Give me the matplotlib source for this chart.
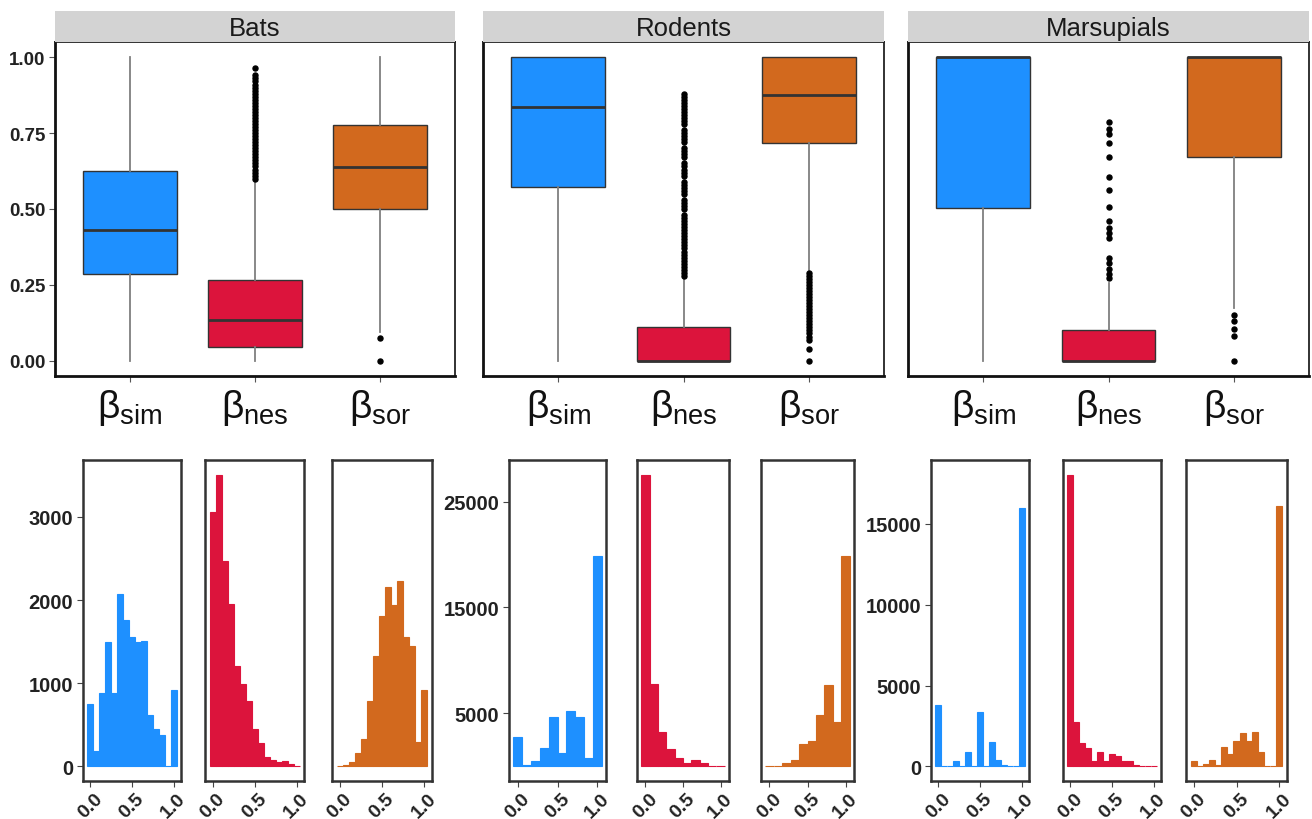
import numpy as np
import matplotlib
matplotlib.use("Agg")
import matplotlib.pyplot as plt

plt.rcParams['font.family'] = ['Liberation Sans', 'DejaVu Sans']
plt.rcParams['mathtext.fontset'] = 'custom'
plt.rcParams['mathtext.rm'] = 'Liberation Sans'

W, H = 1312, 820

groups = ['Bats', 'Rodents', 'Marsupials']
index_names = ['sim', 'nes', 'sor']
colors = ['#1E90FF', '#DC143C', '#D2691E']

# box stats per group, order: sim, nes, sor
bats_whislo = [0.0, 0.0, 0.096]
bats_q1 = [0.287, 0.047, 0.50]
bats_med = [0.43, 0.133, 0.637]
bats_q3 = [0.625, 0.265, 0.778]
bats_whishi = [1.0, 0.593, 1.0]

rodents_whislo = [0.0, 0.0, 0.30]
rodents_q1 = [0.573, 0.0, 0.716]
rodents_med = [0.837, 0.0, 0.876]
rodents_q3 = [1.0, 0.11, 1.0]
rodents_whishi = [1.0, 0.275, 1.0]

mars_whislo = [0.0, 0.0, 0.175]
mars_q1 = [0.503, 0.0, 0.672]
mars_med = [1.0, 0.0, 1.0]
mars_q3 = [1.0, 0.103, 1.0]
mars_whishi = [1.0, 0.255, 1.0]

# outliers
bats_nes_out = [0.60, 0.61, 0.62, 0.63, 0.64, 0.65, 0.66, 0.67, 0.68, 0.69, 0.70,
                0.71, 0.72, 0.73, 0.74, 0.75, 0.76, 0.77, 0.78, 0.79, 0.80, 0.81,
                0.82, 0.83, 0.84, 0.85, 0.86, 0.87, 0.88, 0.89, 0.90, 0.91, 0.92,
                0.93, 0.94, 0.965]
bats_sor_out = [0.075, 0.0]
rodents_nes_out = [0.28, 0.29, 0.30, 0.31, 0.32, 0.33, 0.34, 0.35, 0.36, 0.37, 0.38,
                   0.39, 0.40, 0.41, 0.42, 0.43, 0.44, 0.45, 0.46, 0.47, 0.48, 0.50,
                   0.51, 0.52, 0.53, 0.55, 0.56, 0.57, 0.58, 0.59, 0.61, 0.62, 0.63,
                   0.64, 0.65, 0.67, 0.68, 0.69, 0.70, 0.72, 0.73, 0.74, 0.75, 0.76,
                   0.78, 0.79, 0.80, 0.81, 0.82, 0.83, 0.84, 0.85, 0.86, 0.87, 0.88]
rodents_sor_out = [0.29, 0.28, 0.27, 0.26, 0.25, 0.24, 0.23, 0.22, 0.21, 0.20, 0.19,
                   0.18, 0.17, 0.16, 0.15, 0.14, 0.13, 0.12, 0.11, 0.10, 0.09, 0.08,
                   0.07, 0.04, 0.0]
mars_nes_out = [0.785, 0.763, 0.746, 0.718, 0.671, 0.606, 0.561, 0.506, 0.461,
                0.437, 0.420, 0.404, 0.338, 0.321, 0.302, 0.285, 0.272]
mars_sor_out = [0.152, 0.130, 0.106, 0.082, 0.0]

# histogram counts (bins centred from 0 to 1)
bats_sim_hist = [756, 187, 883, 1500, 883, 2069, 1759, 1552, 1500, 1510, 613, 446, 382, 0, 915]
bats_nes_hist = [3064, 3510, 2475, 1950, 1202, 991, 784, 446, 287, 119, 80, 48, 68, 28, 0]
bats_sor_hist = [5, 16, 48, 160, 326, 784, 1329, 1806, 2157, 1938, 2236, 1560, 1448, 294, 915]
rodents_sim_hist = [2806, 100, 517, 1771, 4687, 1238, 5219, 4687, 830, 19860]
rodents_nes_hist = [27540, 7790, 3245, 1614, 830, 360, 580, 360, 50, 0]
rodents_sor_hist = [50, 50, 300, 611, 2085, 2398, 4812, 7665, 4185, 19860]
mars_sim_hist = [3786, 0, 0, 307, 0, 880, 0, 3335, 0, 1494, 409, 102, 0, 0, 15960]
mars_nes_hist = [18048, 2721, 1432, 1125, 307, 880, 307, 757, 614, 348, 307, 102, 0, 0, 0]
mars_sor_hist = [307, 0, 143, 409, 102, 1228, 757, 1576, 2046, 1576, 2108, 880, 0, 0, 16104]

bats_yticks = [0, 1000, 2000, 3000]
rodents_yticks = [5000, 15000, 25000]
mars_yticks = [0, 5000, 10000, 15000]
box_yticks = [0.0, 0.25, 0.5, 0.75, 1.0]
hist_xticks = [0.0, 0.5, 1.0]

box_stats = [
    (bats_whislo, bats_q1, bats_med, bats_q3, bats_whishi, [[], bats_nes_out, bats_sor_out]),
    (rodents_whislo, rodents_q1, rodents_med, rodents_q3, rodents_whishi, [[], rodents_nes_out, rodents_sor_out]),
    (mars_whislo, mars_q1, mars_med, mars_q3, mars_whishi, [[], mars_nes_out, mars_sor_out]),
]
hists = [
    (bats_sim_hist, bats_nes_hist, bats_sor_hist),
    (rodents_sim_hist, rodents_nes_hist, rodents_sor_hist),
    (mars_sim_hist, mars_nes_hist, mars_sor_hist),
]
hist_yticks = [bats_yticks, rodents_yticks, mars_yticks]

# pixel layout
box_x = [(55, 455), (483, 884), (908, 1309)]
hist_x = [[(83, 181), (205, 304), (332, 432)],
          [(509, 606), (637, 729), (761, 854)],
          [(931, 1029), (1063, 1161), (1186, 1287)]]

fig = plt.figure(figsize=(W / 100, H / 100), dpi=100)


def px_axes(x0, y0, x1, y1):
    return fig.add_axes([x0 / W, 1 - y1 / H, (x1 - x0) / W, (y1 - y0) / H])


for g, (x0, x1) in enumerate(box_x):
    whislo, q1, med, q3, whishi, fliers = box_stats[g]
    stats = []
    for i in range(3):
        stats.append(dict(whislo=whislo[i], q1=q1[i], med=med[i], q3=q3[i],
                          whishi=whishi[i], fliers=fliers[i]))
    ax = px_axes(x0, 43, x1, 377)
    bp = ax.bxp(stats, positions=[1, 2, 3], widths=0.75, patch_artist=True,
                showcaps=False,
                boxprops=dict(edgecolor='#333333', linewidth=1.0),
                medianprops=dict(color='#333333', linewidth=2.0),
                whiskerprops=dict(color='#7f7f7f', linewidth=1.3),
                flierprops=dict(marker='o', markerfacecolor='black',
                                markeredgecolor='black', markersize=3.6))
    for patch, c in zip(bp['boxes'], colors):
        patch.set_facecolor(c)
    ax.set_xlim(0.4, 3.6)
    ax.set_ylim(-0.05, 1.05)
    ax.set_xticks([1, 2, 3])
    ax.set_xticklabels([r'β$_\mathregular{%s}$' % n for n in index_names],
                       fontsize=28, color='#111111')
    ax.tick_params(axis='x', length=4, color='#555555', pad=4)
    if g == 0:
        ax.set_yticks(box_yticks)
        ax.set_yticklabels(['%.2f' % v for v in box_yticks], fontsize=13.5,
                           fontweight='bold', color='#222222')
        ax.tick_params(axis='y', length=4, color='#555555', pad=3)
    else:
        ax.set_yticks([])
    for side in ['top', 'right']:
        ax.spines[side].set_linewidth(1.3)
        ax.spines[side].set_color('#222222')
    for side in ['bottom', 'left']:
        ax.spines[side].set_linewidth(2.0)
        ax.spines[side].set_color('#111111')

    # facet strip
    sx = px_axes(x0, 12, x1, 43)
    sx.set_facecolor('#d3d3d3')
    sx.set_xticks([])
    sx.set_yticks([])
    for sp in sx.spines.values():
        sp.set_visible(False)
    sx.text(0.5, 0.45, groups[g], ha='center', va='center', fontsize=18.5,
            color='#1a1a1a', transform=sx.transAxes)

for g in range(3):
    counts_all = hists[g]
    ymax = max(max(c) for c in counts_all)
    for i in range(3):
        x0, x1 = hist_x[g][i]
        ax = px_axes(x0, 461, x1, 782)
        counts = counts_all[i]
        n = len(counts)
        centres = np.linspace(0, 1, n)
        width = 1 / (n - 1)
        ax.bar(centres, counts, width=width, color=colors[i],
               edgecolor=colors[i], linewidth=0.8)
        ax.set_xlim(-0.05 - width / 2 - 0.05 * width, 1.05 + width / 2 + 0.05 * width)
        ax.set_ylim(-0.05 * ymax, 1.05 * ymax)
        ax.set_xticks(hist_xticks)
        ax.set_xticklabels(['%.1f' % v for v in hist_xticks], rotation=45,
                           fontsize=14, fontweight='bold', color='#222222')
        ax.tick_params(axis='x', length=4, color='#444444', pad=2)
        if i == 0:
            ax.set_yticks(hist_yticks[g])
            ax.set_yticklabels([str(v) for v in hist_yticks[g]], fontsize=14.5,
                               fontweight='bold', color='#222222')
            ax.tick_params(axis='y', length=4, color='#444444', pad=3)
        else:
            ax.set_yticks([])
        for sp in ax.spines.values():
            sp.set_linewidth(1.8)
            sp.set_color('#333333')

fig.savefig('out.png', dpi=100)
